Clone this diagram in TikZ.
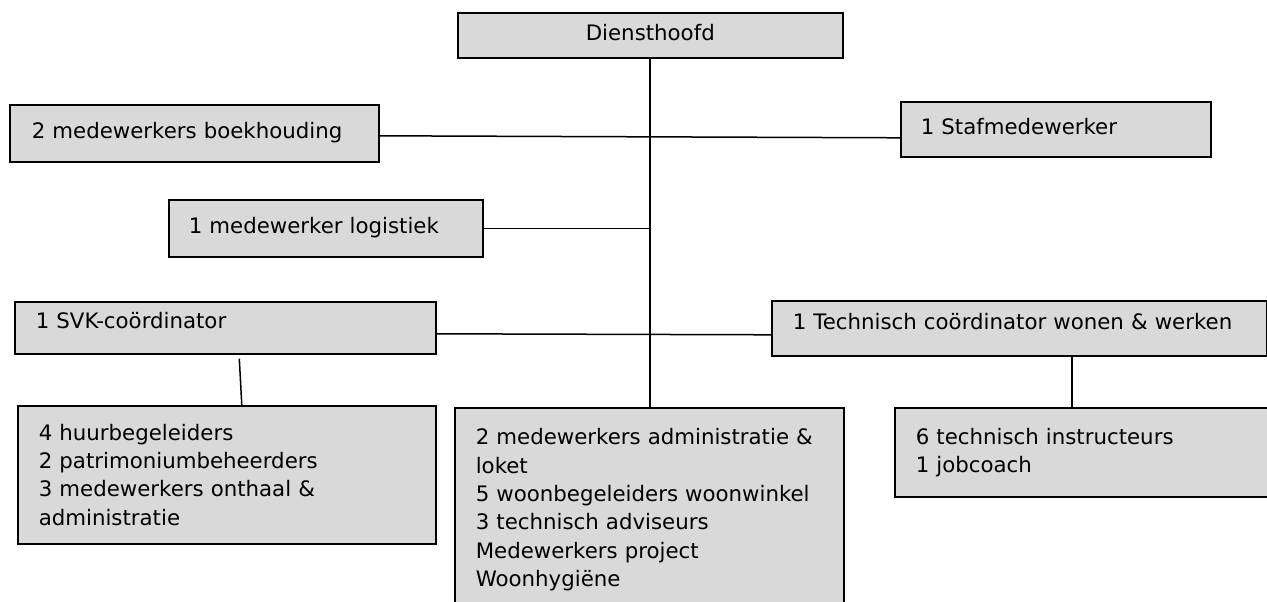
\documentclass[tikz,border=0pt]{standalone}
\usepackage{fontspec}
\setmainfont{DejaVu Sans}
\usetikzlibrary{positioning}
\definecolor{boxgray}{RGB}{217,217,217}
\tikzset{
  every node/.style={font=\fontsize{21.3pt}{28.3pt}\selectfont},
  unit/.style  = {rectangle, draw=black, fill=boxgray, line width=1.6pt,
                  anchor=north west, inner xsep=21pt, align=left},
  single/.style = {unit, text height=16pt, text depth=5pt},
  topline/.style = {text depth=14pt},
  link/.style  = {line width=1.5pt},
  spine/.style = {line width=1.9pt},
}

\begin{document}
\begin{tikzpicture}[x=1pt, y=-1pt]
  \useasboundingbox (0,0) rectangle (1267,602);
  \clip (0,0) rectangle (1267,602);

  \node[single, align=center, text width=343pt, minimum height=45pt] (hoofd) at (457,12) {Diensthoofd};
  \node[single, text width=325pt, inner xsep=22pt, minimum height=57pt] (boek) at (9,104) {2 medewerkers boekhouding};
  \node[single, text width=270pt, inner xsep=20pt, minimum height=55pt] (staf) at (900,101) {1 Stafmedewerker};
  \node[single, text width=274pt, inner xsep=20pt, minimum height=57pt] (logi) at (168,199) {1 medewerker logistiek};
  \node[single, topline, text width=379pt, minimum height=52pt] (svk) at (14,301) {1 SVK-coördinator};
  \node[single, topline, text width=453pt, minimum height=55pt] (tech) at (771,300) {1 Technisch coördinator wonen \& werken};

  \node[unit, text width=376pt, minimum height=138pt] (huur) at (17,405)
    {4 huurbegeleiders\\2 patrimoniumbeheerders\\3 medewerkers onthaal \&\\administratie};
  \node[unit, text width=347pt, minimum height=204pt] (admin) at (454,407)
    {2 medewerkers administratie \&\\loket\\5 woonbegeleiders woonwinkel\\3 technisch adviseurs\\Medewerkers project\\Woonhygiëne};
  \node[unit, text width=358pt, minimum height=89.3pt] (instr) at (894,407)
    {6 technisch instructeurs\\1 jobcoach};

  \draw[spine] (hoofd.south) -- (hoofd.south |- admin.north);
  \draw[link] ([yshift=-2.5pt]boek.east) -- ([yshift=-8.5pt]staf.west);
  \draw[link] (logi.east) -- (logi.east -| hoofd.south);
  \draw[link] ([yshift=-6pt]svk.east) -- ([yshift=-6.5pt]tech.west);
  \draw[link] ([xshift=14pt,yshift=-4pt]svk.south) -- ([xshift=15pt]huur.north);
  \draw[link] ([xshift=52.5pt]tech.south) -- ([xshift=52.5pt]tech.south |- instr.north);
\end{tikzpicture}
\end{document}
